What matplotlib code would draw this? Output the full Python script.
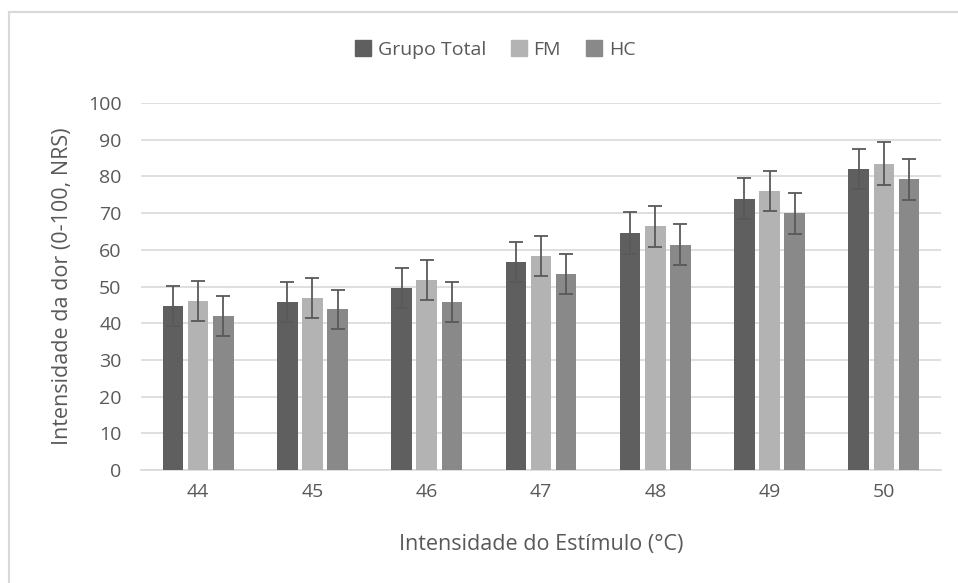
import numpy as np
import matplotlib
matplotlib.use("Agg")
import matplotlib.pyplot as plt
from matplotlib.lines import Line2D

plt.rcParams['font.family'] = ['Open Sans', 'DejaVu Sans']

# estimulo (graus C) e intensidade da dor por grupo
estimulo = ['44', '45', '46', '47', '48', '49', '50']
grupo_total = [44.7, 45.8, 49.6, 56.6, 64.6, 73.9, 82.0]
fm = [46.1, 46.9, 51.7, 58.3, 66.4, 76.1, 83.5]
hc = [42.0, 43.8, 45.8, 53.4, 61.4, 69.9, 79.2]
err_gt = [5.5, 5.4, 5.4, 5.4, 5.8, 5.6, 5.5]
err_fm = [5.5, 5.4, 5.5, 5.5, 5.5, 5.5, 5.8]
err_hc = [5.4, 5.3, 5.4, 5.5, 5.5, 5.5, 5.5]

names = ['Grupo Total', 'FM', 'HC']
colors = ['#5f5f5f', '#b3b3b3', '#898989']
txt = '#595959'

fig = plt.figure(figsize=(9.58, 5.83), dpi=100)
ax = fig.add_axes([0.1472, 0.1938, 0.8351, 0.6295])

x = np.arange(len(estimulo))
step = 0.22
w = 0.18
series = [(grupo_total, err_gt), (fm, err_fm), (hc, err_hc)]
for i, (vals, errs) in enumerate(series):
    ax.bar(x + (i - 1) * step, vals, w, color=colors[i], label=names[i],
           yerr=errs, error_kw=dict(ecolor='#595959', elinewidth=1.3, capsize=5, capthick=1.3),
           zorder=3)

ax.set_xlim(-0.5, len(estimulo) - 0.5)
ax.set_ylim(0, 100)
ax.set_yticks(range(0, 101, 10))
ax.set_xticks(x)
ax.set_xticklabels(estimulo)
ax.yaxis.grid(True, color='#d9d9d9', linewidth=1.2, zorder=0)
ax.set_axisbelow(True)
for s in ['top', 'right', 'left']:
    ax.spines[s].set_visible(False)
ax.spines['bottom'].set_color('#d9d9d9')
ax.spines['bottom'].set_linewidth(1.2)
ax.tick_params(axis='both', length=0, labelsize=14, labelcolor=txt)
ax.tick_params(axis='x', pad=9)
ax.tick_params(axis='y', pad=14)

ax.set_ylabel('Intensidade da dor (0-100, NRS)', fontsize=15.5, color=txt, labelpad=11)
ax.set_xlabel('Intensidade do Estímulo (°C)', fontsize=15.5, color=txt, labelpad=24)

handles = [Line2D([], [], marker='s', linestyle='none', markersize=11,
                  markerfacecolor=c, markeredgecolor=c) for c in colors]
fig.legend(handles, names, loc='center', bbox_to_anchor=(0.516, 0.914), ncol=3,
           frameon=False, fontsize=14, handletextpad=0.25, columnspacing=1.2,
           labelcolor=txt, handlelength=1.0)

# borda da area do grafico
fig.add_artist(Line2D([9 / 958, 1], [1 - 12 / 583, 1 - 12 / 583], color='#d9d9d9', lw=1.5))
fig.add_artist(Line2D([9 / 958, 9 / 958], [0, 1 - 12 / 583], color='#d9d9d9', lw=1.5))

fig.savefig('out.png', dpi=100)
